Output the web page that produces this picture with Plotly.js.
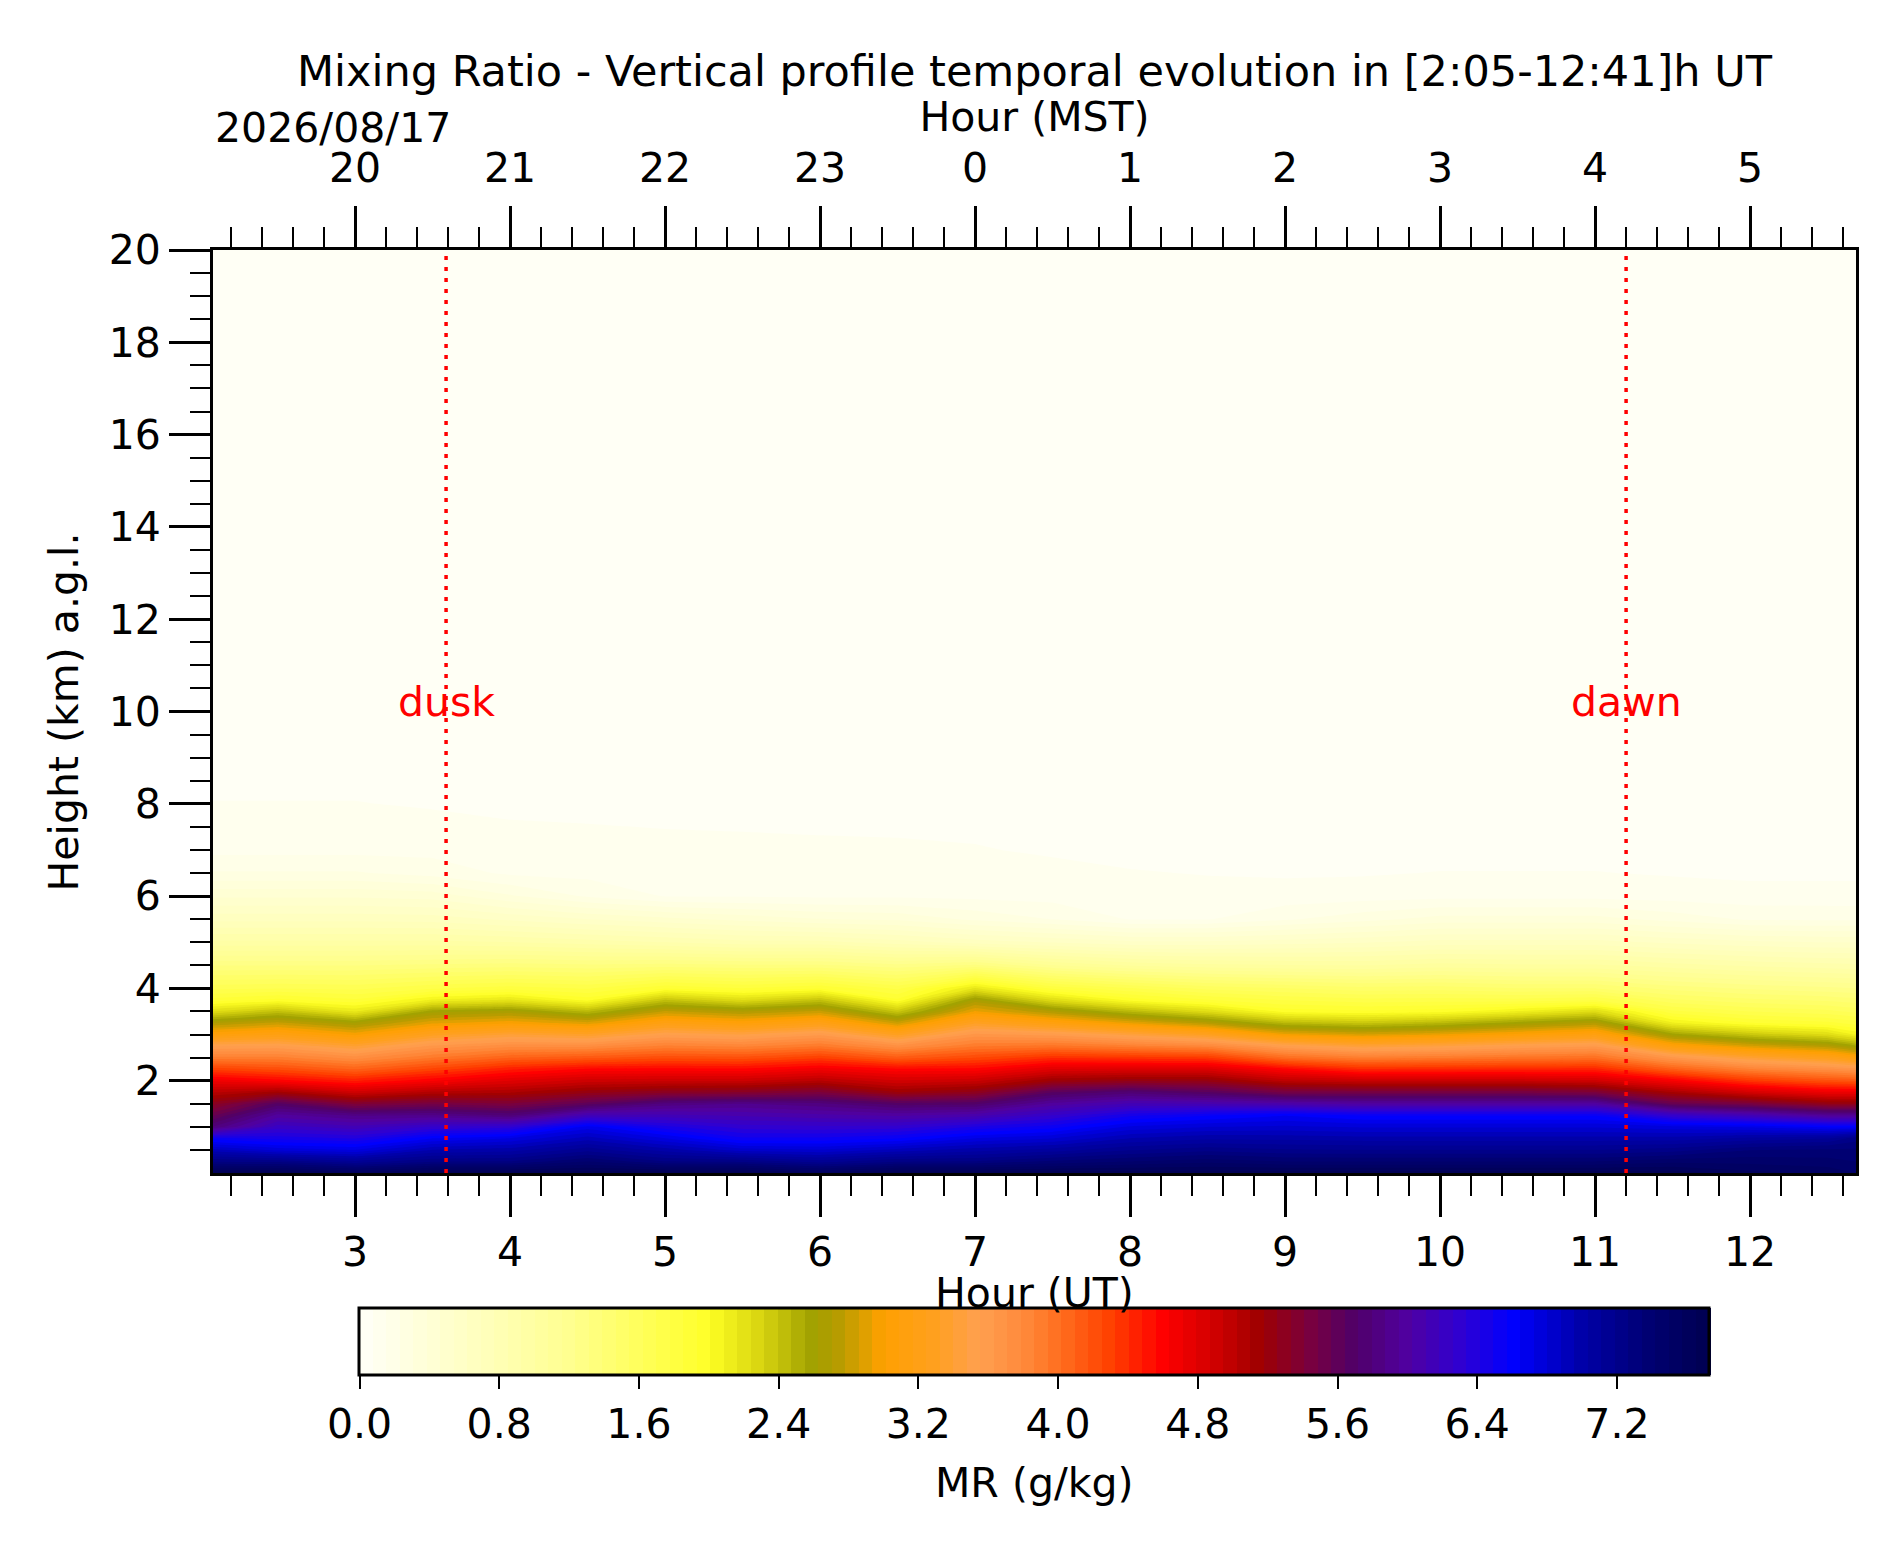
<!DOCTYPE html>
<html>
<head>
<meta charset="utf-8">
<script src="https://cdn.plot.ly/plotly-3.0.1.min.js"></script>
<style>
  html, body { margin: 0; padding: 0; background: #ffffff; }
  #chart { width: 1900px; height: 1550px; }
</style>
</head>
<body>
<div id="chart"></div>
<script>
// ---- data ----
const hoursUT = [2.083, 2.5, 3.0, 3.5, 4.0, 4.5, 5.0, 5.5, 6.0, 6.5, 7.0, 7.5, 8.0, 8.5, 9.0, 9.5, 10.0, 10.5, 11.0, 11.5, 12.0, 12.5, 12.683];
const heightsKm = [0, 0.25, 0.5, 0.75, 1.0, 1.25, 1.5, 1.75, 2.0, 2.25, 2.5, 2.75, 3.0, 3.25, 3.5, 3.75, 4.0, 4.5, 5.0, 5.5, 6.0, 6.5, 7.0, 8.0, 9.0, 20];

// mixing ratio (g/kg) profiles, one per time column, values at heightsKm
const mrProfiles = [
  [7.7, 7.26, 6.91, 6.53, 5.8, 5.55, 5.3, 5.02, 4.7, 4.3, 3.89, 3.55, 3.09, 2.7, 2.24, 1.89, 1.68, 1.31, 0.95, 0.67, 0.45, 0.24, 0.13, 0.08, 0.04, 0],
  [7.7, 7.24, 6.78, 6.46, 6.22, 5.98, 5.67, 5.14, 4.6, 4.23, 3.89, 3.57, 3.17, 2.81, 2.42, 1.96, 1.70, 1.31, 0.95, 0.67, 0.45, 0.24, 0.13, 0.08, 0.04, 0],
  [7.6, 7.13, 6.73, 6.41, 6.13, 5.86, 5.39, 4.90, 4.47, 4.09, 3.75, 3.39, 2.99, 2.64, 2.16, 1.87, 1.68, 1.31, 0.95, 0.67, 0.45, 0.24, 0.13, 0.08, 0.04, 0],
  [7.7, 7.26, 6.96, 6.65, 6.27, 5.88, 5.47, 5.05, 4.63, 4.28, 3.94, 3.65, 3.29, 2.92, 2.6, 2.1, 1.77, 1.33, 0.95, 0.66, 0.43, 0.20, 0.13, 0.07, 0.04, 0],
  [7.7, 7.27, 7.0, 6.73, 6.31, 5.78, 5.42, 5.09, 4.79, 4.47, 4.09, 3.76, 3.41, 3.0, 2.66, 2.18, 1.82, 1.35, 0.93, 0.60, 0.32, 0.14, 0.11, 0.06, 0.04, 0],
  [7.7, 7.42, 7.16, 6.92, 6.68, 6.13, 5.61, 5.23, 4.91, 4.58, 4.15, 3.76, 3.34, 2.89, 2.46, 1.98, 1.77, 1.33, 0.89, 0.54, 0.22, 0.13, 0.10, 0.06, 0.04, 0],
  [7.7, 7.27, 7.0, 6.73, 6.44, 6.13, 5.82, 5.31, 4.93, 4.59, 4.22, 3.88, 3.55, 3.17, 2.8, 2.4, 1.93, 1.35, 0.85, 0.49, 0.15, 0.12, 0.10, 0.05, 0.04, 0],
  [7.7, 7.25, 6.84, 6.51, 6.30, 6.09, 5.88, 5.34, 4.93, 4.58, 4.2, 3.84, 3.48, 3.07, 2.7, 2.24, 1.86, 1.33, 0.8, 0.44, 0.145, 0.12, 0.095, 0.05, 0.04, 0],
  [7.6, 7.15, 6.81, 6.51, 6.28, 6.05, 5.82, 5.42, 5.03, 4.68, 4.31, 3.94, 3.61, 3.2, 2.81, 2.4, 1.93, 1.33, 0.8, 0.39, 0.14, 0.115, 0.09, 0.05, 0.04, 0],
  [7.7, 7.26, 6.91, 6.57, 6.29, 6.01, 5.68, 5.18, 4.88, 4.58, 4.13, 3.73, 3.29, 2.83, 2.38, 1.95, 1.76, 1.26, 0.73, 0.37, 0.14, 0.11, 0.087, 0.05, 0.04, 0],
  [7.7, 7.27, 7.0, 6.73, 6.42, 6.07, 5.70, 5.28, 4.93, 4.59, 4.25, 3.93, 3.66, 3.31, 2.95, 2.65, 2.18, 1.33, 0.66, 0.29, 0.134, 0.108, 0.082, 0.045, 0.035, 0],
  [7.7, 7.36, 7.07, 6.80, 6.53, 6.26, 5.98, 5.64, 5.18, 4.80, 4.39, 3.97, 3.6, 3.13, 2.71, 2.24, 1.84, 1.16, 0.61, 0.23, 0.126, 0.097, 0.068, 0.045, 0.035, 0],
  [7.7, 7.42, 7.18, 6.96, 6.74, 6.47, 6.12, 5.76, 5.24, 4.82, 4.36, 3.89, 3.45, 2.93, 2.46, 1.98, 1.71, 1.07, 0.56, 0.15, 0.117, 0.083, 0.05, 0.04, 0.03, 0],
  [7.7, 7.47, 7.24, 7.02, 6.80, 6.56, 6.10, 5.65, 5.23, 4.82, 4.33, 3.82, 3.29, 2.74, 2.24, 1.86, 1.6, 1.03, 0.56, 0.15, 0.11, 0.073, 0.048, 0.04, 0.03, 0],
  [7.7, 7.42, 7.20, 7.01, 6.82, 6.64, 6.05, 5.47, 5.0, 4.59, 4.02, 3.56, 2.96, 2.46, 1.98, 1.77, 1.55, 1.01, 0.58, 0.22, 0.11, 0.068, 0.048, 0.04, 0.03, 0],
  [7.7, 7.42, 7.19, 6.99, 6.79, 6.56, 6.0, 5.47, 4.94, 4.41, 3.90, 3.42, 2.87, 2.38, 1.95, 1.73, 1.5, 1.0, 0.61, 0.28, 0.12, 0.07, 0.048, 0.04, 0.03, 0],
  [7.7, 7.42, 7.19, 6.99, 6.79, 6.56, 6.0, 5.47, 4.94, 4.42, 3.93, 3.47, 2.94, 2.46, 1.98, 1.74, 1.51, 1.04, 0.65, 0.34, 0.13, 0.08, 0.048, 0.04, 0.03, 0],
  [7.7, 7.42, 7.19, 6.99, 6.79, 6.56, 6.0, 5.47, 4.94, 4.43, 3.97, 3.56, 3.04, 2.6, 2.1, 1.73, 1.47, 1.02, 0.65, 0.34, 0.13, 0.08, 0.048, 0.04, 0.03, 0],
  [7.7, 7.42, 7.19, 6.99, 6.79, 6.56, 6.0, 5.42, 4.9, 4.44, 4.0, 3.62, 3.15, 2.72, 2.24, 1.77, 1.47, 1.02, 0.65, 0.34, 0.13, 0.08, 0.048, 0.04, 0.03, 0],
  [7.7, 7.47, 7.23, 6.99, 6.75, 6.26, 5.56, 5.11, 4.64, 4.11, 3.65, 3.09, 2.6, 2.1, 1.8, 1.56, 1.36, 0.96, 0.6, 0.28, 0.12, 0.07, 0.045, 0.035, 0.03, 0],
  [7.6, 7.47, 7.34, 7.06, 6.71, 6.13, 5.45, 4.87, 4.35, 3.87, 3.4, 2.87, 2.38, 1.94, 1.7, 1.49, 1.30, 0.91, 0.56, 0.22, 0.11, 0.06, 0.045, 0.035, 0.03, 0],
  [7.55, 7.45, 7.36, 7.11, 6.62, 5.94, 5.25, 4.71, 4.2, 3.74, 3.24, 2.73, 2.24, 1.88, 1.65, 1.45, 1.26, 0.88, 0.54, 0.215, 0.11, 0.06, 0.045, 0.035, 0.03, 0],
  [7.5, 7.42, 7.36, 7.23, 6.62, 5.94, 5.25, 4.71, 4.16, 3.67, 3.1, 2.58, 2.08, 1.82, 1.6, 1.42, 1.24, 0.87, 0.54, 0.215, 0.11, 0.06, 0.045, 0.035, 0.03, 0]
];

const timeRange = [2.0833, 12.6833];          // 2:05 - 12:41 UT
const utTickVals = [3, 4, 5, 6, 7, 8, 9, 10, 11, 12];
const utTickText = ['3', '4', '5', '6', '7', '8', '9', '10', '11', '12'];
const mstTickText = ['20', '21', '22', '23', '0', '1', '2', '3', '4', '5'];
const heightTickVals = [2, 4, 6, 8, 10, 12, 14, 16, 18, 20];
const heightMinorVals = [0.5, 1, 1.5, 2.5, 3, 3.5, 4.5, 5, 5.5, 6.5, 7, 7.5, 8.5, 9, 9.5, 10.5, 11, 11.5, 12.5, 13, 13.5, 14.5, 15, 15.5, 16.5, 17, 17.5, 18.5, 19, 19.5];
const mrTickVals = [0.0, 0.8, 1.6, 2.4, 3.2, 4.0, 4.8, 5.6, 6.4, 7.2];
const mrTickText = ['0.0', '0.8', '1.6', '2.4', '3.2', '4.0', '4.8', '5.6', '6.4', '7.2'];
const mrMax = 7.73;
const duskUT = 3.587;
const dawnUT = 11.2;
const markerLabelHeight = 10.2;

// colormap (value in g/kg -> colour)
const cmapValues = [0.0, 0.4, 0.8, 1.2, 1.6, 2.0, 2.05, 2.3, 2.6, 2.75, 2.9, 3.0, 3.3, 3.55, 3.8, 4.0, 4.3, 4.6, 4.9, 5.15, 5.45, 5.7, 6.0, 6.3, 6.6, 7.0, 7.4, 7.73];
const cmapColors = ['#fffff8', '#ffffd6', '#ffffb4', '#ffff90', '#ffff5c', '#ffff28', '#f8f820', '#d8d410', '#a0a000', '#b89c00', '#e0a000', '#ffa000', '#ffa020', '#ffa050', '#ff8a3c', '#ff7020', '#ff4000', '#ff0000', '#d00000', '#a00000', '#780040', '#500068', '#5000a0', '#3000d0', '#0000ff', '#0000a8', '#000070', '#000050'];

// ---- build figure ----
const z = heightsKm.map((h, i) => mrProfiles.map(p => p[i]));
const colorscale = cmapValues.map((v, i) => [v / mrMax, cmapColors[i]]);

const FONT = 'DejaVu Sans, Liberation Sans, sans-serif';
const FS = 41;
const txt = (size, color) => ({ family: FONT, size: size, color: color || '#000000' });

const contour = {
  type: 'contour',
  x: hoursUT,
  y: heightsKm,
  z: z,
  zmin: 0,
  zmax: mrMax,
  zauto: false,
  autocontour: false,
  contours: { start: 0, end: mrMax, size: mrMax / 100, coloring: 'fill', showlines: false },
  line: { width: 0, smoothing: 0 },
  colorscale: colorscale,
  hoverinfo: 'skip',
  colorbar: {
    orientation: 'h',
    x: 0.5, xanchor: 'center',
    y: -0.1463, yanchor: 'top',
    len: 1350, lenmode: 'pixels',
    thickness: 67, thicknessmode: 'pixels',
    xpad: 0, ypad: 0,
    outlinewidth: 3, outlinecolor: '#000000',
    ticks: 'outside', ticklen: 13, tickwidth: 2, tickcolor: '#000000',
    tickmode: 'array', tickvals: mrTickVals, ticktext: mrTickText,
    tickfont: txt(FS),
    title: { text: '', side: 'bottom' }
  }
};

const topAxisHelper = {
  type: 'scatter', mode: 'markers',
  x: timeRange, y: [null, null],
  xaxis: 'x2', yaxis: 'y',
  showlegend: false, hoverinfo: 'skip'
};

const axisCommon = {
  showgrid: false, zeroline: false,
  showline: true, linewidth: 3, linecolor: '#000000',
  ticks: 'outside', ticklen: 41, tickwidth: 3, tickcolor: '#000000',
  tickfont: txt(FS),
  automargin: false
};

const layout = {
  width: 1900, height: 1550,
  paper_bgcolor: '#ffffff', plot_bgcolor: '#fffff8',
  margin: { l: 213, r: 44, t: 250, b: 377, pad: 0 },
  showlegend: false,
  font: txt(FS),
  title: {
    text: 'Mixing Ratio - Vertical profile temporal evolution in [2:05-12:41]h UT',
    font: txt(43),
    x: 0.5, xref: 'paper', xanchor: 'center',
    y: 1 - 71 / 1550, yref: 'container', yanchor: 'middle'
  },
  xaxis: Object.assign({}, axisCommon, {
    range: timeRange, autorange: false,
    tickmode: 'array', tickvals: utTickVals, ticktext: utTickText,
    minor: { ticks: 'outside', dtick: 0.2, tick0: 0, ticklen: 20, tickwidth: 2, tickcolor: '#000000' },
    mirror: false
  }),
  xaxis2: Object.assign({}, axisCommon, {
    overlaying: 'x', side: 'top', anchor: 'y',
    range: timeRange, autorange: false,
    tickmode: 'array', tickvals: utTickVals, ticktext: mstTickText,
    ticklabelstandoff: 8,
    minor: { ticks: 'outside', dtick: 0.2, tick0: 0, ticklen: 20, tickwidth: 2, tickcolor: '#000000' },
    title: { text: 'Hour (MST)', standoff: 0, font: txt(FS) }
  }),
  yaxis: Object.assign({}, axisCommon, {
    range: [0, 20], autorange: false,
    tickmode: 'array', tickvals: heightTickVals,
    minor: { ticks: 'outside', tickmode: 'array', tickvals: heightMinorVals, ticklen: 20, tickwidth: 2, tickcolor: '#000000' },
    mirror: true
  }),
  shapes: [duskUT, dawnUT].map(t => ({
    type: 'line', xref: 'x', yref: 'y',
    x0: t, x1: t, y0: 0, y1: 20,
    line: { color: '#ff0000', width: 3.5, dash: '4px,7px' }
  })),
  annotations: [
    { text: 'dusk', x: duskUT, y: markerLabelHeight, xref: 'x', yref: 'y', showarrow: false,
      xanchor: 'center', yanchor: 'middle', font: txt(FS, '#ff0000') },
    { text: 'dawn', x: dawnUT, y: markerLabelHeight, xref: 'x', yref: 'y', showarrow: false,
      xanchor: 'center', yanchor: 'middle', font: txt(FS, '#ff0000') },
    { text: '2026/08/17', x: 0, y: 1.1317, xref: 'paper', yref: 'paper', showarrow: false,
      xanchor: 'left', yanchor: 'middle', font: txt(FS) },
    { text: 'Hour (UT)', x: 0.5, y: -0.1296, xref: 'paper', yref: 'paper', showarrow: false,
      xanchor: 'center', yanchor: 'middle', font: txt(FS) },
    { text: 'MR (g/kg)', x: 0.5, y: -0.3355, xref: 'paper', yref: 'paper', showarrow: false,
      xanchor: 'center', yanchor: 'middle', font: txt(FS) },
    { text: 'Height (km) a.g.l.', x: -0.0907, y: 0.5, xref: 'paper', yref: 'paper', showarrow: false,
      textangle: -90, xanchor: 'center', yanchor: 'middle', font: txt(FS) }
  ]
};

Plotly.newPlot('chart', [contour, topAxisHelper], layout, { staticPlot: true, displayModeBar: false });
</script>
</body>
</html>
